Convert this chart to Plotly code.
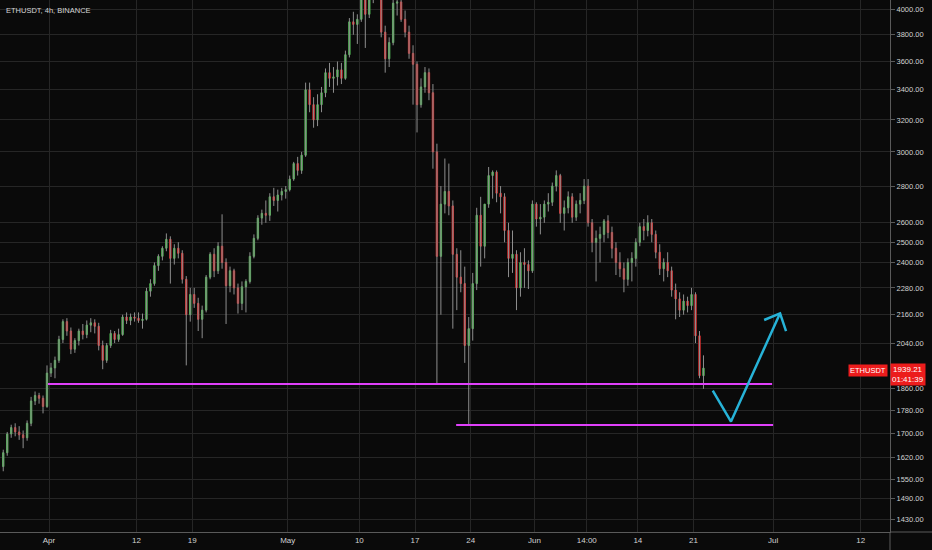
import math
import pandas as pd
import plotly.graph_objects as go

# ---------------- data (12h candles) ----------------
start_time = "2021-03-26 06:00"   # centre of first 12h candle
candle_step = "12h"

opens = [1590, 1635, 1698, 1720, 1705, 1695, 1685, 1735, 1815, 1835, 1825, 1795,
         1920, 1940, 1970, 2055, 2130, 2090, 2015, 2050, 2090, 2075, 2115, 2125,
         2110, 2030, 1970, 2030, 2080, 2055, 2075, 2150, 2135, 2150, 2145, 2135,
         2140, 2265, 2300, 2385, 2430, 2470, 2515, 2420, 2470, 2445, 2320, 2160,
         2250, 2210, 2140, 2180, 2330, 2440, 2360, 2480, 2400, 2290, 2360, 2280,
         2210, 2285, 2310, 2430, 2520, 2625, 2650, 2640, 2740, 2720, 2750, 2770,
         2780, 2840, 2930, 2890, 2980, 3400, 3300, 3200, 3300, 3380, 3520, 3480,
         3490, 3540, 3480, 3650, 3900, 3880, 3920, 4100, 3960, 4120, 4160, 4230,
         3820, 3620, 3740, 4050, 4060, 3920, 3820, 3660, 3580, 3300, 3420, 3520,
         3380, 3000, 2430, 2700, 2770, 2690, 2440, 2330, 2300, 2030, 2100, 2300,
         2640, 2480, 2700, 2860, 2880, 2760, 2740, 2560, 2420, 2440, 2280, 2400,
         2390, 2360, 2700, 2620, 2630, 2700, 2710, 2800, 2860, 2650, 2680, 2740,
         2630, 2700, 2720, 2800, 2600, 2500, 2520, 2540, 2610, 2550, 2470, 2400,
         2370, 2320, 2400, 2420, 2500, 2580, 2560, 2600, 2540, 2450, 2370, 2400,
         2360, 2270, 2230, 2180, 2220, 2200, 2250, 2070, 1910]
highs = [1645, 1705, 1730, 1735, 1725, 1710, 1745, 1830, 1850, 1845, 1835, 1950,
         1960, 1985, 2070, 2140, 2145, 2105, 2060, 2100, 2120, 2135, 2145, 2140,
         2125, 2050, 2040, 2095, 2090, 2100, 2160, 2170, 2165, 2170, 2170, 2165,
         2280, 2320, 2400, 2440, 2480, 2545, 2530, 2490, 2500, 2460, 2335, 2280,
         2280, 2235, 2200, 2340, 2450, 2470, 2500, 2645, 2420, 2380, 2370, 2300,
         2310, 2320, 2450, 2540, 2640, 2670, 2720, 2760, 2790, 2780, 2790, 2800,
         2860, 2940, 2970, 3000, 3450, 3450, 3350, 3370, 3420, 3550, 3590, 3560,
         3600, 3590, 3680, 3930, 3980, 3960, 4200, 4190, 4150, 4200, 4370, 4280,
         3870, 3780, 4100, 4130, 4100, 3990, 3870, 3720, 3600, 3480, 3560, 3550,
         3440, 3050, 2800, 2960, 2930, 2720, 2470, 2460, 2380, 2150, 2350, 2680,
         2740, 2700, 2910, 2890, 2890, 2800, 2760, 2600, 2560, 2460, 2450, 2470,
         2410, 2720, 2710, 2700, 2720, 2760, 2820, 2890, 2870, 2720, 2770, 2760,
         2720, 2760, 2840, 2840, 2620, 2560, 2580, 2620, 2640, 2580, 2500, 2450,
         2400, 2420, 2450, 2520, 2600, 2620, 2640, 2620, 2560, 2490, 2420, 2450,
         2380, 2300, 2260, 2250, 2240, 2280, 2260, 2090, 1990]
lows = [1575, 1625, 1685, 1690, 1678, 1650, 1675, 1725, 1800, 1805, 1770, 1790,
        1905, 1900, 1960, 2040, 2070, 1995, 2000, 2030, 2055, 2060, 2085, 2080,
        2010, 1935, 1960, 2020, 2040, 2045, 2070, 2120, 2115, 2130, 2125, 2100,
        2135, 2240, 2290, 2360, 2410, 2455, 2300, 2390, 2420, 2300, 1950, 2130,
        2190, 2090, 2060, 2170, 2320, 2330, 2345, 2370, 2120, 2260, 2250, 2165,
        2180, 2170, 2300, 2420, 2510, 2590, 2600, 2610, 2690, 2660, 2720, 2730,
        2770, 2830, 2860, 2870, 2970, 3250, 3150, 3160, 3250, 3350, 3420, 3380,
        3430, 3440, 3470, 3630, 3800, 3730, 3900, 3700, 3930, 4050, 4100, 3780,
        3520, 3560, 3720, 3950, 3900, 3780, 3620, 3300, 3120, 3280, 3380, 3330,
        2900, 1880, 2160, 2650, 2640, 2100, 2180, 2260, 1960, 1730, 2050, 2270,
        2380, 2420, 2680, 2730, 2710, 2650, 2500, 2330, 2350, 2180, 2240, 2280,
        2275, 2350, 2580, 2540, 2600, 2660, 2690, 2770, 2600, 2560, 2650, 2600,
        2610, 2650, 2700, 2580, 2450, 2310, 2400, 2500, 2520, 2420, 2340, 2330,
        2260, 2290, 2310, 2380, 2480, 2510, 2530, 2500, 2420, 2340, 2310, 2330,
        2240, 2140, 2150, 2160, 2170, 2180, 2040, 1900, 1860]
closes = [1635, 1698, 1720, 1705, 1695, 1685, 1735, 1815, 1835, 1825, 1795, 1920,
          1940, 1970, 2055, 2130, 2090, 2015, 2050, 2090, 2075, 2115, 2125, 2110,
          2030, 1970, 2030, 2080, 2055, 2075, 2150, 2135, 2150, 2145, 2135, 2140,
          2265, 2300, 2385, 2430, 2470, 2515, 2420, 2470, 2445, 2320, 2160, 2250,
          2210, 2140, 2180, 2330, 2440, 2360, 2480, 2400, 2290, 2360, 2280, 2210,
          2285, 2310, 2430, 2520, 2625, 2650, 2640, 2740, 2720, 2750, 2770, 2780,
          2840, 2930, 2890, 2980, 3400, 3300, 3200, 3300, 3380, 3520, 3480, 3490,
          3540, 3480, 3650, 3900, 3880, 3920, 4100, 3960, 4120, 4160, 4230, 3820,
          3620, 3740, 4050, 4060, 3920, 3820, 3660, 3580, 3300, 3420, 3520, 3380,
          3000, 2430, 2700, 2770, 2690, 2440, 2330, 2300, 2030, 2100, 2300, 2640,
          2480, 2700, 2860, 2880, 2760, 2740, 2560, 2420, 2440, 2280, 2400, 2390,
          2360, 2700, 2620, 2630, 2700, 2710, 2800, 2860, 2650, 2680, 2740, 2630,
          2700, 2720, 2800, 2600, 2500, 2520, 2540, 2610, 2550, 2470, 2400, 2370,
          2320, 2400, 2420, 2500, 2580, 2560, 2600, 2540, 2450, 2370, 2400, 2360,
          2270, 2230, 2180, 2220, 2200, 2250, 2070, 1910, 1939.21]

last_price = 1939.21
last_countdown = "01:41:39"
symbol_title = "ETHUSDT, 4h, BINANCE"
symbol_tag = "ETHUSDT"

y_tick_values = [4000, 3800, 3600, 3400, 3200, 3000, 2800, 2600, 2500, 2400,
                 2280, 2160, 2040, 1860, 1780, 1700, 1620, 1550, 1490, 1430]
y_tick_labels = [f"{v:.2f}" for v in y_tick_values]

x_tick_values = ["2021-04-01", "2021-04-12", "2021-04-19", "2021-05-01",
                 "2021-05-10", "2021-05-17", "2021-05-24", "2021-06-01",
                 "2021-06-07 14:00", "2021-06-14", "2021-06-21", "2021-07-01",
                 "2021-07-12"]
x_tick_labels = ["Apr", "12", "19", "May", "10", "17", "24", "Jun", "14:00",
                 "14", "21", "Jul", "12"]

# drawings (time, price)
level1_dates = ["2021-03-31 21:00", "2021-06-30 21:00"]
level1_prices = [1878, 1878]
level2_dates = ["2021-05-22 04:00", "2021-07-01 00:00"]
level2_prices = [1729, 1729]
arrow_dates = ["2021-06-23 10:00", "2021-06-25 17:00", "2021-07-01 21:00"]
arrow_prices = [1853, 1741, 2166]
head_dates = ["2021-06-29 21:00", "2021-07-01 21:00", "2021-07-02 15:00"]
head_prices = [2137, 2166, 2090]

x_view = ["2021-03-25 20:13", "2021-07-15 16:34"]
y_view = [1393.3, 4075.8]

# ---------------- styling ----------------
BG = "#0a0a0a"
GRID = "#262626"
AXIS = "#5a5a5a"
TXT = "#d2d2d2"
UP = "#4cb050"
DOWN = "#d32f2f"
WICK = "#8e8e8e"
MAGENTA = "#e040fb"
CYAN = "#27b3d8"
TAG_RED = "#ec1c1c"
FONT = "Liberation Sans"

times = pd.date_range(start_time, periods=len(opens), freq=candle_step)

wick_x, wick_y = [], []
for t, lo, hi in zip(times, lows, highs):
    wick_x += [t, t, None]
    wick_y += [lo, hi, None]

body_hi = [max(o, c) for o, c in zip(opens, closes)]
body_lo = [min(o, c) for o, c in zip(opens, closes)]

fig = go.Figure()
fig.add_trace(go.Scatter(x=wick_x, y=wick_y, mode="lines",
                         line=dict(color=WICK, width=1), hoverinfo="skip"))
fig.add_trace(go.Candlestick(
    x=times, open=opens, high=body_hi, low=body_lo, close=closes,
    increasing=dict(line=dict(color=UP, width=1), fillcolor=UP),
    decreasing=dict(line=dict(color=DOWN, width=1), fillcolor=DOWN),
    whiskerwidth=0))

for dx, py in [(level1_dates, level1_prices), (level2_dates, level2_prices)]:
    fig.add_trace(go.Scatter(x=dx, y=py, mode="lines",
                             line=dict(color=MAGENTA, width=2), hoverinfo="skip"))
fig.add_trace(go.Scatter(x=arrow_dates, y=arrow_prices, mode="lines",
                         line=dict(color=CYAN, width=2.5), hoverinfo="skip"))
fig.add_trace(go.Scatter(x=head_dates, y=head_prices, mode="lines",
                         line=dict(color=CYAN, width=2.5), hoverinfo="skip"))

fig.update_layout(
    width=932, height=550,
    margin=dict(l=0, r=42, t=0, b=18),
    paper_bgcolor=BG, plot_bgcolor=BG,
    showlegend=False,
    boxgap=0.5,
    font=dict(family=FONT, color=TXT, size=8),
    xaxis=dict(type="date", range=x_view, tickvals=x_tick_values,
               ticktext=x_tick_labels, showgrid=True, gridcolor=GRID,
               gridwidth=1, showline=True, linecolor=AXIS, linewidth=1,
               zeroline=False, ticks="", rangeslider=dict(visible=False),
               tickfont=dict(family=FONT, size=8, color=TXT)),
    yaxis=dict(type="log", side="right",
               range=[math.log10(y_view[0]), math.log10(y_view[1])],
               tickvals=y_tick_values, ticktext=y_tick_labels,
               showgrid=True, gridcolor=GRID, gridwidth=1,
               showline=True, linecolor=AXIS, linewidth=1, zeroline=False,
               ticks="outside", ticklen=4, tickcolor=AXIS,
               tickfont=dict(family=FONT, size=7.5, color=TXT)),
    shapes=[
        dict(type="line", xref="paper", yref="paper", x0=1, x1=1,
             y0=0, y1=-18 / 532, line=dict(color=AXIS, width=1)),
        dict(type="line", xref="paper", yref="paper", x0=1, x1=932 / 890,
             y0=0, y1=0, line=dict(color=AXIS, width=1)),
    ],
    annotations=[
        dict(text=symbol_title, xref="paper", yref="paper", x=0, y=1,
             xanchor="left", yanchor="top", xshift=4, yshift=-4,
             showarrow=False, font=dict(family=FONT, size=7.5, color="#d6d6d6")),
        dict(text=f"{last_price:.2f}<br>{last_countdown}", xref="paper", yref="y",
             x=1, y=math.log10(last_price), xanchor="left", yanchor="top",
             xshift=0, yshift=5, showarrow=False, bgcolor=TAG_RED, borderpad=1,
             align="center", font=dict(family=FONT, size=8, color="#ffffff")),
        dict(text=symbol_tag, xref="paper", yref="y", x=1,
             y=math.log10(last_price), xanchor="right", yanchor="middle",
             xshift=-2, yshift=-2, showarrow=False, bgcolor=TAG_RED,
             borderpad=1, font=dict(family=FONT, size=7.5, color="#ffffff")),
    ],
)

fig.write_html("out.html", config={"displayModeBar": False},
               post_script="document.body.style.margin='0';"
                           "document.body.style.background='#0a0a0a';")
